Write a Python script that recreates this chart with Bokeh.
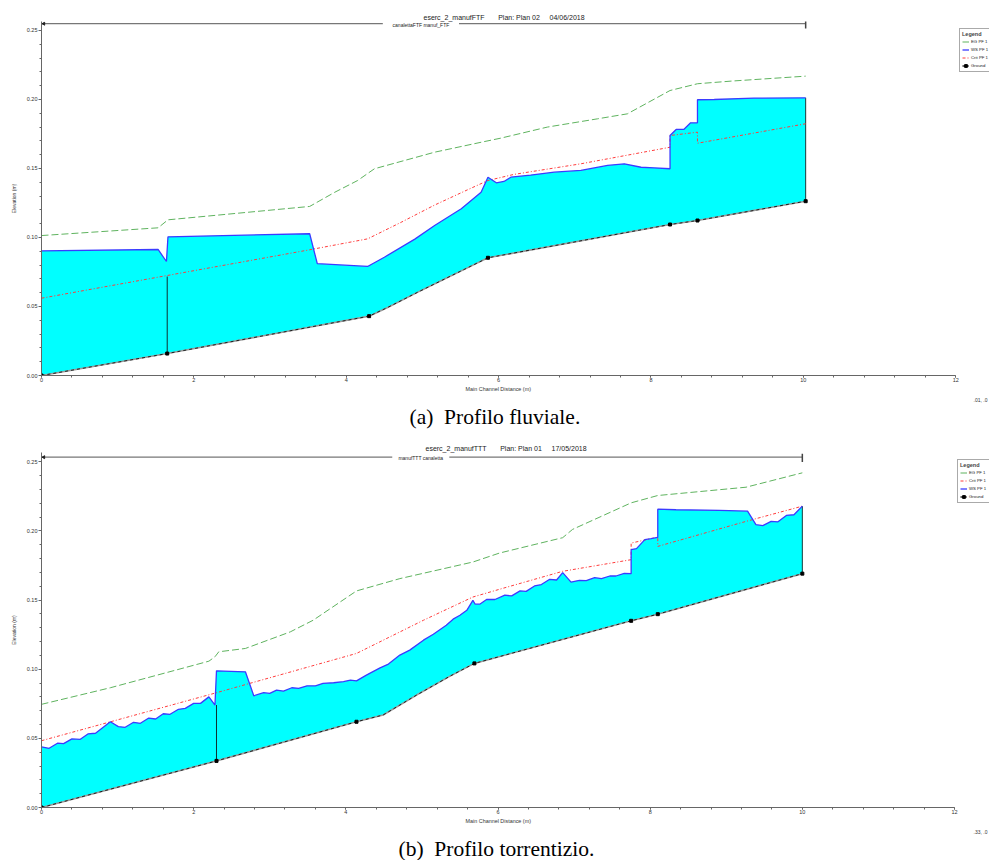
import numpy as np
from bokeh.plotting import figure
from bokeh.layouts import column
from bokeh.models import (SingleIntervalTicker, PrintfTickFormatter,
                          Legend, LegendItem, Title)
from bokeh.core.properties import value
from bokeh.embed import file_html
from bokeh.resources import INLINE

# ---------------- (a) subcritical profile ----------------
ground_a_x = [0.0, 1.65, 4.30, 4.55, 4.94, 5.25, 5.59, 5.86, 8.25, 8.61, 10.03]
ground_a_y = [0.0, 0.0159, 0.0430, 0.0495, 0.0604, 0.0688, 0.0780, 0.0853, 0.1094, 0.1123, 0.1263]
stations_a = [0.0, 1.65, 4.30, 5.86, 8.25, 8.61, 10.03]

ws_a_x = [0.0, 1.53, 1.64, 1.66, 3.52, 3.62, 4.28, 4.50, 4.90, 5.16, 5.51, 5.77,
          5.86, 5.97, 6.07, 6.16, 6.42, 6.73, 7.08, 7.43, 7.65, 7.87, 8.04, 8.25,
          8.25, 8.33, 8.43, 8.52, 8.61, 8.61, 8.83, 9.35, 10.03]
ws_a_y = [0.0903, 0.0913, 0.0826, 0.1005, 0.1027, 0.0810, 0.0790, 0.0857, 0.0988, 0.1087, 0.1208, 0.1328,
          0.1437, 0.1396, 0.1406, 0.1437, 0.1452, 0.1473, 0.1486, 0.1522, 0.1534, 0.1509, 0.1505, 0.1498,
          0.1739, 0.1783, 0.1783, 0.1831, 0.1831, 0.1998, 0.2000, 0.2010, 0.2012]

crit_a_x = [0.0, 3.52, 4.28, 4.72, 5.16, 5.59, 5.86, 6.20, 7.08, 8.25, 8.25, 8.61, 8.61, 10.03]
crit_a_y = [0.0560, 0.0911, 0.0990, 0.1110, 0.1235, 0.1345, 0.1413, 0.1457, 0.1534, 0.1654, 0.1739, 0.1763, 0.1683, 0.1824]

eg_a_x = [0.0, 1.53, 1.66, 3.52, 3.85, 4.15, 4.37, 5.16, 5.77, 6.03, 6.64, 7.30, 7.69, 8.25, 8.61, 9.05, 10.03]
eg_a_y = [0.1014, 0.1070, 0.1128, 0.1225, 0.1328, 0.1413, 0.1498, 0.1618, 0.1690, 0.1720, 0.1800, 0.1860, 0.1896, 0.2065, 0.2114, 0.2133, 0.2169]

struct_a_x = 1.65
struct_a_top = 0.0717

# ---------------- (b) supercritical profile ----------------
ground_b_x = [0.0, 2.30, 4.14, 4.49, 4.93, 5.37, 5.69, 7.75, 8.10, 10.0]
ground_b_y = [0.0, 0.0337, 0.0620, 0.0669, 0.0813, 0.0950, 0.1042, 0.1350, 0.1398, 0.1691]
stations_b = [0.0, 2.30, 4.14, 5.69, 7.75, 8.10, 10.0]

ws_b_x = [0.0, 0.10, 0.21, 0.29, 0.40, 0.51, 0.61, 0.71, 0.905, 1.01,
          1.10, 1.21, 1.30, 1.41, 1.50, 1.60, 1.69, 1.80, 1.89, 2.00,
          2.09, 2.20, 2.28, 2.30, 2.68, 2.79, 2.92, 3.00, 3.09, 3.18,
          3.29, 3.38, 3.49, 3.60, 3.70, 3.84, 3.97, 4.06, 4.14, 4.27,
          4.45, 4.56, 4.71, 4.84, 5.02, 5.15, 5.32, 5.41, 5.50, 5.59,
          5.67, 5.70, 5.76, 5.85, 5.96, 6.09, 6.18, 6.29, 6.37, 6.48,
          6.57, 6.68, 6.77, 6.85, 6.96, 7.07, 7.16, 7.27, 7.36, 7.47,
          7.55, 7.66, 7.75, 7.75, 7.82, 7.93, 8.01, 8.10, 8.10, 8.34,
          8.91, 9.28, 9.39, 9.48, 9.59, 9.68, 9.79, 9.89, 10.0]
ws_b_y = [0.0438, 0.0428, 0.0465, 0.0462, 0.0496, 0.0493, 0.0532, 0.0537, 0.0620, 0.0585,
          0.0580, 0.0616, 0.0609, 0.0647, 0.0640, 0.0678, 0.0674, 0.0710, 0.0717, 0.0753,
          0.0753, 0.0800, 0.0741, 0.0988, 0.0981, 0.0808, 0.0830, 0.0825, 0.0849, 0.0842,
          0.0866, 0.0861, 0.0880, 0.0880, 0.0897, 0.0902, 0.0910, 0.0921, 0.0916, 0.0957,
          0.1010, 0.1037, 0.1102, 0.1138, 0.1210, 0.1253, 0.1318, 0.1362, 0.1390, 0.1426,
          0.1498, 0.1470, 0.1470, 0.1504, 0.1504, 0.1535, 0.1530, 0.1566, 0.1563, 0.1602,
          0.1612, 0.1650, 0.1645, 0.1698, 0.1630, 0.1643, 0.1641, 0.1662, 0.1655, 0.1674,
          0.1674, 0.1693, 0.1691, 0.1864, 0.1872, 0.1937, 0.1944, 0.1953, 0.2157, 0.2153,
          0.2148, 0.2143, 0.2045, 0.2038, 0.2069, 0.2066, 0.2112, 0.2117, 0.2179]

crit_b_x = [0.0, 2.30, 4.14, 5.02, 5.67, 6.02, 6.85, 7.75, 7.75, 8.10, 8.10, 9.26, 10.0]
crit_b_y = [0.0483, 0.0830, 0.1114, 0.1354, 0.1522, 0.1578, 0.1708, 0.1792, 0.1912, 0.1955, 0.1888, 0.2069, 0.2179]

eg_b_x = [0.0, 0.905, 2.20, 2.28, 2.33, 2.68, 3.27, 3.57, 4.14, 4.71, 5.67, 6.02, 6.85, 6.98, 7.75, 8.10, 9.26, 10.0]
eg_b_y = [0.0746, 0.0866, 0.1058, 0.1090, 0.1126, 0.1150, 0.1270, 0.1354, 0.1566, 0.1655, 0.1775, 0.1840, 0.1951, 0.2011, 0.2203, 0.2256, 0.2316, 0.2420]

struct_b_x = 2.30
struct_b_top = 0.0741

SANS = "Liberation Sans"
FILL = "#00FFFF"
WS_COLOR = "#3b3bff"
EG_COLOR = "#5fb35f"
CRIT_COLOR = "#ff3b3b"
NB = "\u00a0"


def build_panel(height, borders, x_end, y_top, title_parts, title_offset,
                reach_text, reach_y, reach_gap,
                ground_x, ground_y, stations, ws_x, ws_y, crit_x, crit_y, eg_x, eg_y,
                struct_x, struct_top, legend_order, legend_pos,
                caption, caption_offset, readout):
    left, top, bottom = borders
    title_text = title_parts[0] + NB * 7 + title_parts[1] + NB * 5 + title_parts[2]
    # the frame runs to the right edge so the legend box fits inside it;
    # the distance axis itself stops at 12 m
    p = figure(width=989, height=height, x_range=(0, x_end), y_range=(0, y_top),
               output_backend="svg", toolbar_location=None,
               min_border_left=left, min_border_right=0,
               min_border_top=top, min_border_bottom=bottom)
    p.title = Title(text=title_text, align="left", offset=title_offset, text_font=SANS,
                    text_font_size="7px", text_font_style="normal",
                    text_color="#222222", standoff=2)
    p.grid.visible = False
    p.outline_line_color = None
    p.background_fill_color = "white"
    p.border_fill_color = "white"

    # axes
    p.xaxis.ticker = SingleIntervalTicker(interval=2, num_minor_ticks=5)
    p.xaxis.bounds = (0, 12)
    p.yaxis.ticker = SingleIntervalTicker(interval=0.05, num_minor_ticks=5)
    p.yaxis.formatter = PrintfTickFormatter(format="%.2f")
    p.xaxis.axis_label = "Main Channel Distance (m)" + NB * 23
    p.yaxis.axis_label = "Elevation (m)"
    for ax in (p.xaxis, p.yaxis):
        ax.axis_line_color = "#666666"
        ax.major_tick_line_color = "#666666"
        ax.minor_tick_line_color = "#666666"
        ax.major_tick_in = 0
        ax.minor_tick_in = 0
        ax.major_tick_out = 3
        ax.minor_tick_out = 2
        ax.major_label_text_font = SANS
        ax.major_label_text_font_size = "5.5px"
        ax.major_label_text_color = "#333333"
        ax.axis_label_text_font = SANS
        ax.axis_label_text_font_style = "normal"
        ax.axis_label_text_color = "#333333"
    p.xaxis.major_tick_out = 2
    p.xaxis.major_label_standoff = 0
    p.xaxis.axis_label_standoff = 1
    p.xaxis.axis_label_text_font_size = "5.4px"
    p.yaxis.major_label_standoff = 1
    p.yaxis.axis_label_standoff = 7
    p.yaxis.axis_label_text_font_size = "5px"

    # water body between ground and water surface
    poly_x = list(ws_x) + list(ground_x)[::-1]
    poly_y = list(ws_y) + list(ground_y)[::-1]
    p.patch(poly_x, poly_y, fill_color=FILL, line_color=None)

    # end sections and inline structure
    end_x = [ws_x[0], ws_x[-1]]
    p.segment(x0=end_x, y0=[ground_y[0], ground_y[-1]], x1=end_x,
              y1=[ws_y[0], ws_y[-1]], line_color="#1a3a3a", line_width=1)
    g_struct = float(np.interp(struct_x, ground_x, ground_y))
    p.segment(x0=[struct_x], y0=[g_struct], x1=[struct_x], y1=[struct_top],
              line_color="#103030", line_width=1)

    eg_r = p.line(eg_x, eg_y, line_color=EG_COLOR, line_width=1, line_dash="7 3")
    crit_r = p.line(crit_x, crit_y, line_color=CRIT_COLOR, line_width=1, line_dash="3 2 1 2")
    ws_r = p.line(ws_x, ws_y, line_color=WS_COLOR, line_width=1.3)
    gshadow = p.line(ground_x, ground_y, line_color="#9a9a9a", line_width=1.6)
    gline = p.line(ground_x, ground_y, line_color="#111111", line_width=0.9, line_dash="3 3")
    st_y = np.interp(stations, ground_x, ground_y)
    st_r = p.scatter(stations, st_y, marker="square", size=3, fill_color="black",
                     line_color="black")

    # reach line with its name
    reach_end = ground_x[-1]
    p.segment(x0=[0.0, reach_gap[1]], y0=[reach_y, reach_y],
              x1=[reach_gap[0], reach_end], y1=[reach_y, reach_y],
              line_color="#777777", line_width=1.2)
    p.segment(x0=[reach_end], y0=[reach_y - 0.0035], x1=[reach_end], y1=[reach_y + 0.0025],
              line_color="#444444", line_width=1.5)
    p.scatter([0.03], [reach_y], marker="triangle", angle=np.pi / 2, size=3,
              fill_color="#222222", line_color="#222222")
    p.text(x=[(reach_gap[0] + reach_gap[1]) / 2], y=[reach_y - 0.0008], text=[reach_text],
           text_align="center", text_baseline="middle", text_font=value(SANS),
           text_font_size="5px", text_color="#222222")

    lookup = {
        "EG PF 1": [eg_r],
        "WS PF 1": [ws_r],
        "Crit PF 1": [crit_r],
        "Ground": [gshadow, gline, st_r],
    }
    items = [LegendItem(label=name, renderers=lookup[name]) for name in legend_order]
    legend = Legend(items=items, location=legend_pos, title="Legend",
                    title_text_font=SANS, title_text_font_size="5.5px",
                    title_text_font_style="bold", title_standoff=1,
                    label_text_font=SANS, label_text_font_size="4.3px",
                    label_text_color="#222222", label_height=7, glyph_height=7,
                    glyph_width=7, label_standoff=2, spacing=1, padding=2, margin=0,
                    border_line_color="#555555", border_line_width=1,
                    background_fill_color="white", background_fill_alpha=1.0)
    p.add_layout(legend)

    # cursor readout and figure caption under the axis
    p.add_layout(Title(text=readout, align="right", offset=2, standoff=0,
                       text_font=SANS, text_font_size="5px", text_font_style="normal",
                       text_color="#333333"), "below")
    p.add_layout(Title(text=caption, align="left", offset=caption_offset, standoff=0,
                       text_font="Liberation Serif", text_font_size="21.5px",
                       text_font_style="normal", text_color="black"), "below")
    return p


fig_a = build_panel(430, (40, 21, 55), 12.443, 0.2565,
                    ("eserc_2_manufFTF", "Plan: Plan 02", "04/06/2018"), 382,
                    "canalettaFTF manuf_FTF", 0.2549, (4.48, 5.48),
                    ground_a_x, ground_a_y, stations_a, ws_a_x, ws_a_y,
                    crit_a_x, crit_a_y, eg_a_x, eg_a_y, struct_a_x, struct_a_top,
                    ["EG PF 1", "WS PF 1", "Crit PF 1", "Ground"], (918, 303),
                    "(a)\u00a0 Profilo fluviale.", 368, ".01, .0")

fig_b = build_panel(430, (41, 22, 52), 12.46, 0.2567,
                    ("eserc_2_manufTTT", "Plan: Plan 01", "17/05/2018"), 384,
                    "manufTTT canaletta", 0.2533, (4.61, 5.36),
                    ground_b_x, ground_b_y, stations_b, ws_b_x, ws_b_y,
                    crit_b_x, crit_b_y, eg_b_x, eg_b_y, struct_b_x, struct_b_top,
                    ["EG PF 1", "Crit PF 1", "WS PF 1", "Ground"], (916, 304),
                    "(b)\u00a0 Profilo torrentizio.", 357, ".33, .0")

layout = column(fig_a, fig_b, spacing=0)
open("out.html", "w").write(file_html(layout, INLINE))
